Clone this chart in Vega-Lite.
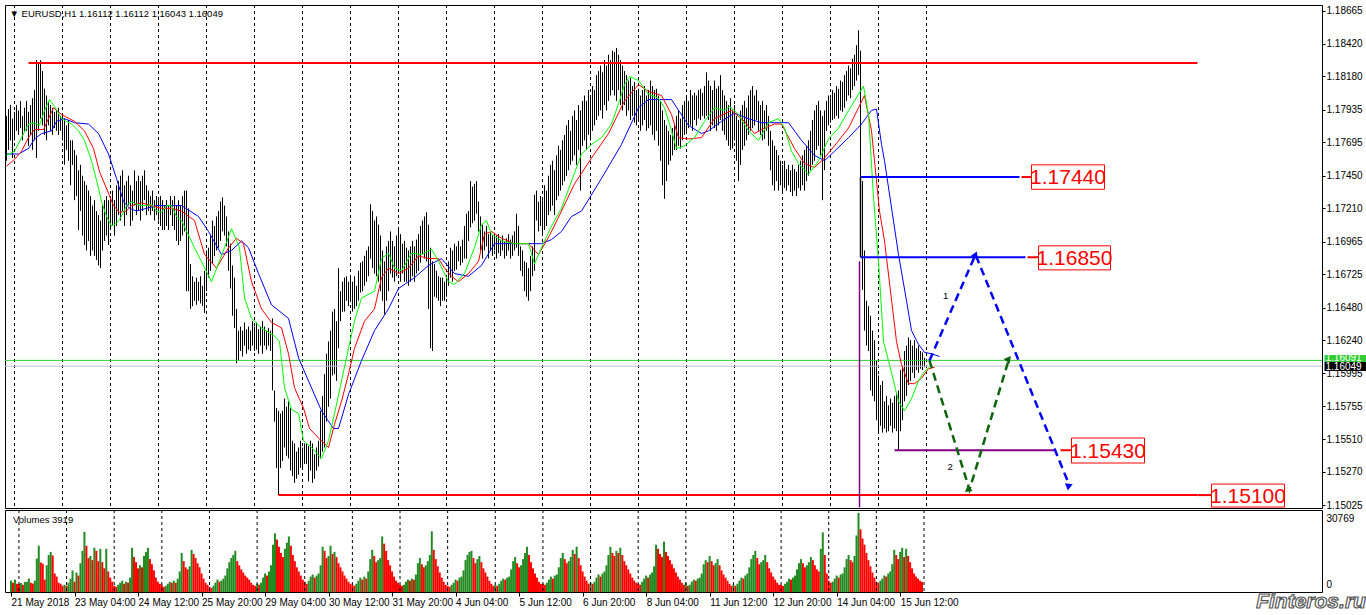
{
"$schema":"https://vega.github.io/schema/vega-lite/v6.json",
"background":"#ffffff",
"padding":{"left":4,"top":4,"right":0,"bottom":0},
"spacing":2,
"bounds":"flush",
"resolve":{"scale":{"x":"independent","y":"independent"}},
"config":{"view":{"stroke":"#000000","strokeWidth":1},"text":{"font":"Liberation Sans"},"axis":{"labelFont":"Liberation Sans","labelColor":"#000000","tickColor":"#000000","labelOverlap":false}},
"datasets":{
"bars":[
{"i":0,"h":1.1789,"l":1.1756,"v":4400},{"i":1,"h":1.1794,"l":1.1764,"v":3600},{"i":2,"h":1.1797,"l":1.1771,"v":4800},{"i":3,"h":1.1787,"l":1.1758,"v":3200},
{"i":4,"h":1.1792,"l":1.1771,"v":3100},{"i":5,"h":1.1797,"l":1.1778,"v":3500},{"i":6,"h":1.1793,"l":1.1775,"v":2800},{"i":7,"h":1.1800,"l":1.1780,"v":3900},
{"i":8,"h":1.1789,"l":1.1771,"v":4000},{"i":9,"h":1.1795,"l":1.1777,"v":5200},{"i":10,"h":1.1800,"l":1.1778,"v":3600},{"i":11,"h":1.1792,"l":1.1767,"v":3300},
{"i":12,"h":1.1797,"l":1.1775,"v":4400},{"i":13,"h":1.1802,"l":1.1764,"v":13000},{"i":14,"h":1.1808,"l":1.1771,"v":18000},{"i":15,"h":1.1830,"l":1.1758,"v":11500},
{"i":16,"h":1.1828,"l":1.1778,"v":11000},{"i":17,"h":1.1830,"l":1.1787,"v":4800},{"i":18,"h":1.1822,"l":1.1782,"v":10400},{"i":19,"h":1.1809,"l":1.1775,"v":14400},
{"i":20,"h":1.1804,"l":1.1771,"v":15600},{"i":21,"h":1.1800,"l":1.1782,"v":14200},{"i":22,"h":1.1797,"l":1.1778,"v":7200},{"i":23,"h":1.1795,"l":1.1775,"v":6000},
{"i":24,"h":1.1792,"l":1.1780,"v":3600},{"i":25,"h":1.1793,"l":1.1778,"v":3200},{"i":26,"h":1.1795,"l":1.1775,"v":2400},{"i":27,"h":1.1789,"l":1.1778,"v":2800},
{"i":28,"h":1.1789,"l":1.1771,"v":2400},{"i":29,"h":1.1787,"l":1.1753,"v":3600},{"i":30,"h":1.1782,"l":1.1764,"v":5200},{"i":31,"h":1.1786,"l":1.1756,"v":8400},
{"i":32,"h":1.1771,"l":1.1738,"v":4000},{"i":33,"h":1.1771,"l":1.1753,"v":7600},{"i":34,"h":1.1764,"l":1.1727,"v":6400},{"i":35,"h":1.1760,"l":1.1730,"v":11200},
{"i":36,"h":1.1749,"l":1.1705,"v":16000},{"i":37,"h":1.1753,"l":1.1719,"v":23400},{"i":38,"h":1.1745,"l":1.1701,"v":18000},{"i":39,"h":1.1741,"l":1.1694,"v":13200},
{"i":40,"h":1.1738,"l":1.1690,"v":14000},{"i":41,"h":1.1734,"l":1.1697,"v":12400},{"i":42,"h":1.1730,"l":1.1686,"v":17200},{"i":43,"h":1.1723,"l":1.1690,"v":16000},
{"i":44,"h":1.1727,"l":1.1686,"v":12000},{"i":45,"h":1.1719,"l":1.1683,"v":16800},{"i":46,"h":1.1716,"l":1.1679,"v":11600},{"i":47,"h":1.1712,"l":1.1677,"v":9200},
{"i":48,"h":1.1723,"l":1.1690,"v":16800},{"i":49,"h":1.1727,"l":1.1697,"v":8000},{"i":50,"h":1.1730,"l":1.1701,"v":5600},{"i":51,"h":1.1727,"l":1.1694,"v":4000},
{"i":52,"h":1.1730,"l":1.1705,"v":2400},{"i":53,"h":1.1734,"l":1.1708,"v":2000},{"i":54,"h":1.1727,"l":1.1701,"v":2800},{"i":55,"h":1.1738,"l":1.1708,"v":3600},
{"i":56,"h":1.1741,"l":1.1716,"v":4400},{"i":57,"h":1.1745,"l":1.1712,"v":3200},{"i":58,"h":1.1749,"l":1.1719,"v":4000},{"i":59,"h":1.1738,"l":1.1708,"v":3600},
{"i":60,"h":1.1741,"l":1.1716,"v":5600},{"i":61,"h":1.1745,"l":1.1723,"v":17200},{"i":62,"h":1.1738,"l":1.1708,"v":13600},{"i":63,"h":1.1734,"l":1.1712,"v":11600},
{"i":64,"h":1.1749,"l":1.1723,"v":9200},{"i":65,"h":1.1741,"l":1.1716,"v":10400},{"i":66,"h":1.1745,"l":1.1719,"v":9600},{"i":67,"h":1.1741,"l":1.1712,"v":14000},
{"i":68,"h":1.1745,"l":1.1719,"v":15600},{"i":69,"h":1.1749,"l":1.1727,"v":17200},{"i":70,"h":1.1738,"l":1.1716,"v":12800},{"i":71,"h":1.1734,"l":1.1719,"v":10800},
{"i":72,"h":1.1730,"l":1.1716,"v":8400},{"i":73,"h":1.1734,"l":1.1719,"v":5600},{"i":74,"h":1.1727,"l":1.1712,"v":4000},{"i":75,"h":1.1730,"l":1.1716,"v":3200},
{"i":76,"h":1.1727,"l":1.1712,"v":2800},{"i":77,"h":1.1730,"l":1.1708,"v":2000},{"i":78,"h":1.1727,"l":1.1705,"v":2400},{"i":79,"h":1.1723,"l":1.1705,"v":3200},
{"i":80,"h":1.1727,"l":1.1708,"v":4000},{"i":81,"h":1.1723,"l":1.1705,"v":3600},{"i":82,"h":1.1730,"l":1.1716,"v":4400},{"i":83,"h":1.1727,"l":1.1708,"v":3600},
{"i":84,"h":1.1730,"l":1.1705,"v":5200},{"i":85,"h":1.1723,"l":1.1697,"v":8000},{"i":86,"h":1.1727,"l":1.1694,"v":15200},{"i":87,"h":1.1723,"l":1.1697,"v":12000},
{"i":88,"h":1.1730,"l":1.1701,"v":9600},{"i":89,"h":1.1734,"l":1.1704,"v":8800},{"i":90,"h":1.1734,"l":1.1660,"v":10000},{"i":91,"h":1.1721,"l":1.1660,"v":16400},
{"i":92,"h":1.1680,"l":1.1647,"v":14800},{"i":93,"h":1.1671,"l":1.1649,"v":13200},{"i":94,"h":1.1667,"l":1.1653,"v":11200},{"i":95,"h":1.1670,"l":1.1650,"v":9600},
{"i":96,"h":1.1667,"l":1.1653,"v":7200},{"i":97,"h":1.1671,"l":1.1651,"v":5200},{"i":98,"h":1.1664,"l":1.1649,"v":3600},{"i":99,"h":1.1675,"l":1.1644,"v":2800},
{"i":100,"h":1.1690,"l":1.1660,"v":2000},{"i":101,"h":1.1692,"l":1.1670,"v":1600},{"i":102,"h":1.1701,"l":1.1675,"v":2400},{"i":103,"h":1.1712,"l":1.1680,"v":3600},
{"i":104,"h":1.1708,"l":1.1686,"v":4800},{"i":105,"h":1.1715,"l":1.1690,"v":4000},{"i":106,"h":1.1719,"l":1.1692,"v":4400},{"i":107,"h":1.1726,"l":1.1697,"v":5200},
{"i":108,"h":1.1729,"l":1.1704,"v":6400},{"i":109,"h":1.1723,"l":1.1701,"v":9200},{"i":110,"h":1.1715,"l":1.1693,"v":11600},{"i":111,"h":1.1704,"l":1.1675,"v":13200},
{"i":112,"h":1.1695,"l":1.1662,"v":14400},{"i":113,"h":1.1679,"l":1.1642,"v":16000},{"i":114,"h":1.1670,"l":1.1633,"v":12000},{"i":115,"h":1.1647,"l":1.1607,"v":10400},
{"i":116,"h":1.1631,"l":1.1609,"v":8800},{"i":117,"h":1.1634,"l":1.1616,"v":7600},{"i":118,"h":1.1631,"l":1.1612,"v":6400},{"i":119,"h":1.1637,"l":1.1620,"v":5600},
{"i":120,"h":1.1632,"l":1.1614,"v":4800},{"i":121,"h":1.1634,"l":1.1617,"v":3600},{"i":122,"h":1.1631,"l":1.1616,"v":2800},{"i":123,"h":1.1638,"l":1.1620,"v":2400},
{"i":124,"h":1.1634,"l":1.1616,"v":3200},{"i":125,"h":1.1637,"l":1.1617,"v":2800},{"i":126,"h":1.1632,"l":1.1614,"v":3600},{"i":127,"h":1.1634,"l":1.1620,"v":5600},
{"i":128,"h":1.1638,"l":1.1614,"v":7200},{"i":129,"h":1.1634,"l":1.1620,"v":6400},{"i":130,"h":1.1631,"l":1.1617,"v":8000},{"i":131,"h":1.1633,"l":1.1620,"v":10400},
{"i":132,"h":1.1631,"l":1.1616,"v":18400},{"i":133,"h":1.1640,"l":1.1587,"v":22800},{"i":134,"h":1.1587,"l":1.1564,"v":20400},{"i":135,"h":1.1574,"l":1.1530,"v":17600},
{"i":136,"h":1.1572,"l":1.1510,"v":15200},{"i":137,"h":1.1570,"l":1.1530,"v":13600},{"i":138,"h":1.1572,"l":1.1535,"v":16800},{"i":139,"h":1.1581,"l":1.1545,"v":19200},
{"i":140,"h":1.1575,"l":1.1539,"v":21600},{"i":141,"h":1.1579,"l":1.1537,"v":18000},{"i":142,"h":1.1574,"l":1.1528,"v":14400},{"i":143,"h":1.1550,"l":1.1524,"v":12000},
{"i":144,"h":1.1548,"l":1.1519,"v":9600},{"i":145,"h":1.1542,"l":1.1522,"v":8000},{"i":146,"h":1.1545,"l":1.1525,"v":6400},{"i":147,"h":1.1550,"l":1.1530,"v":4800},
{"i":148,"h":1.1545,"l":1.1530,"v":4000},{"i":149,"h":1.1548,"l":1.1533,"v":3200},{"i":150,"h":1.1548,"l":1.1533,"v":4400},{"i":151,"h":1.1546,"l":1.1520,"v":6000},
{"i":152,"h":1.1550,"l":1.1528,"v":6800},{"i":153,"h":1.1548,"l":1.1519,"v":5600},{"i":154,"h":1.1540,"l":1.1522,"v":6400},{"i":155,"h":1.1545,"l":1.1528,"v":7200},
{"i":156,"h":1.1550,"l":1.1531,"v":10400},{"i":157,"h":1.1572,"l":1.1537,"v":17600},{"i":158,"h":1.1583,"l":1.1542,"v":16000},{"i":159,"h":1.1599,"l":1.1545,"v":13200},
{"i":160,"h":1.1614,"l":1.1564,"v":14000},{"i":161,"h":1.1623,"l":1.1575,"v":18000},{"i":162,"h":1.1631,"l":1.1581,"v":14800},{"i":163,"h":1.1645,"l":1.1598,"v":15600},
{"i":164,"h":1.1647,"l":1.1599,"v":13600},{"i":165,"h":1.1638,"l":1.1594,"v":11200},{"i":166,"h":1.1677,"l":1.1618,"v":9600},{"i":167,"h":1.1660,"l":1.1638,"v":8000},
{"i":168,"h":1.1667,"l":1.1645,"v":6400},{"i":169,"h":1.1670,"l":1.1645,"v":5200},{"i":170,"h":1.1671,"l":1.1653,"v":4000},{"i":171,"h":1.1667,"l":1.1649,"v":3200},
{"i":172,"h":1.1671,"l":1.1653,"v":2800},{"i":173,"h":1.1667,"l":1.1645,"v":2400},{"i":174,"h":1.1671,"l":1.1647,"v":3200},{"i":175,"h":1.1664,"l":1.1649,"v":4400},
{"i":176,"h":1.1675,"l":1.1653,"v":5600},{"i":177,"h":1.1681,"l":1.1659,"v":4800},{"i":178,"h":1.1682,"l":1.1660,"v":6000},{"i":179,"h":1.1686,"l":1.1664,"v":5200},
{"i":180,"h":1.1690,"l":1.1667,"v":8000},{"i":181,"h":1.1693,"l":1.1671,"v":12800},{"i":182,"h":1.1724,"l":1.1684,"v":16400},{"i":183,"h":1.1719,"l":1.1677,"v":14000},
{"i":184,"h":1.1712,"l":1.1673,"v":11600},{"i":185,"h":1.1715,"l":1.1671,"v":12400},{"i":186,"h":1.1709,"l":1.1667,"v":13200},{"i":187,"h":1.1701,"l":1.1660,"v":21600},
{"i":188,"h":1.1690,"l":1.1653,"v":18800},{"i":189,"h":1.1682,"l":1.1643,"v":16000},{"i":190,"h":1.1693,"l":1.1653,"v":12400},{"i":191,"h":1.1697,"l":1.1660,"v":10400},
{"i":192,"h":1.1704,"l":1.1673,"v":8000},{"i":193,"h":1.1697,"l":1.1670,"v":6000},{"i":194,"h":1.1693,"l":1.1667,"v":4400},{"i":195,"h":1.1701,"l":1.1671,"v":3600},
{"i":196,"h":1.1707,"l":1.1673,"v":2800},{"i":197,"h":1.1702,"l":1.1667,"v":2400},{"i":198,"h":1.1695,"l":1.1673,"v":2800},{"i":199,"h":1.1697,"l":1.1667,"v":4000},
{"i":200,"h":1.1692,"l":1.1667,"v":4800},{"i":201,"h":1.1690,"l":1.1664,"v":4400},{"i":202,"h":1.1693,"l":1.1667,"v":5200},{"i":203,"h":1.1697,"l":1.1671,"v":4800},
{"i":204,"h":1.1693,"l":1.1667,"v":6800},{"i":205,"h":1.1698,"l":1.1673,"v":11200},{"i":206,"h":1.1702,"l":1.1675,"v":13200},{"i":207,"h":1.1708,"l":1.1681,"v":10800},
{"i":208,"h":1.1712,"l":1.1687,"v":9600},{"i":209,"h":1.1715,"l":1.1684,"v":10400},{"i":210,"h":1.1718,"l":1.1682,"v":12000},{"i":211,"h":1.1709,"l":1.1647,"v":14400},
{"i":212,"h":1.1692,"l":1.1618,"v":23600},{"i":213,"h":1.1682,"l":1.1616,"v":16400},{"i":214,"h":1.1680,"l":1.1656,"v":12800},{"i":215,"h":1.1675,"l":1.1655,"v":10000},
{"i":216,"h":1.1671,"l":1.1653,"v":7600},{"i":217,"h":1.1670,"l":1.1649,"v":5600},{"i":218,"h":1.1670,"l":1.1653,"v":4000},{"i":219,"h":1.1667,"l":1.1653,"v":2800},
{"i":220,"h":1.1671,"l":1.1656,"v":2400},{"i":221,"h":1.1682,"l":1.1664,"v":2000},{"i":222,"h":1.1692,"l":1.1670,"v":2800},{"i":223,"h":1.1690,"l":1.1667,"v":3600},
{"i":224,"h":1.1695,"l":1.1675,"v":4800},{"i":225,"h":1.1693,"l":1.1676,"v":4400},{"i":226,"h":1.1697,"l":1.1682,"v":5600},{"i":227,"h":1.1693,"l":1.1679,"v":6000},
{"i":228,"h":1.1698,"l":1.1681,"v":8400},{"i":229,"h":1.1708,"l":1.1684,"v":12400},{"i":230,"h":1.1717,"l":1.1684,"v":14400},{"i":231,"h":1.1719,"l":1.1697,"v":15600},
{"i":232,"h":1.1741,"l":1.1707,"v":16000},{"i":233,"h":1.1737,"l":1.1710,"v":13200},{"i":234,"h":1.1739,"l":1.1712,"v":11200},{"i":235,"h":1.1741,"l":1.1717,"v":12800},
{"i":236,"h":1.1726,"l":1.1704,"v":14000},{"i":237,"h":1.1715,"l":1.1690,"v":11600},{"i":238,"h":1.1709,"l":1.1684,"v":9200},{"i":239,"h":1.1704,"l":1.1690,"v":7600},
{"i":240,"h":1.1708,"l":1.1693,"v":6000},{"i":241,"h":1.1702,"l":1.1684,"v":4400},{"i":242,"h":1.1704,"l":1.1690,"v":3200},{"i":243,"h":1.1701,"l":1.1686,"v":2400},
{"i":244,"h":1.1703,"l":1.1690,"v":2800},{"i":245,"h":1.1701,"l":1.1684,"v":2400},{"i":246,"h":1.1702,"l":1.1688,"v":3200},{"i":247,"h":1.1698,"l":1.1686,"v":4400},
{"i":248,"h":1.1701,"l":1.1690,"v":5200},{"i":249,"h":1.1697,"l":1.1684,"v":4800},{"i":250,"h":1.1699,"l":1.1686,"v":5600},{"i":251,"h":1.1702,"l":1.1690,"v":6000},
{"i":252,"h":1.1698,"l":1.1684,"v":8800},{"i":253,"h":1.1701,"l":1.1686,"v":12000},{"i":254,"h":1.1704,"l":1.1690,"v":13600},{"i":255,"h":1.1717,"l":1.1692,"v":11200},
{"i":256,"h":1.1708,"l":1.1686,"v":9600},{"i":257,"h":1.1693,"l":1.1675,"v":10400},{"i":258,"h":1.1690,"l":1.1671,"v":12800},{"i":259,"h":1.1682,"l":1.1660,"v":15200},
{"i":260,"h":1.1681,"l":1.1656,"v":17600},{"i":261,"h":1.1677,"l":1.1653,"v":14400},{"i":262,"h":1.1686,"l":1.1660,"v":11600},{"i":263,"h":1.1693,"l":1.1671,"v":9200},
{"i":264,"h":1.1731,"l":1.1675,"v":7200},{"i":265,"h":1.1734,"l":1.1712,"v":5600},{"i":266,"h":1.1726,"l":1.1704,"v":4000},{"i":267,"h":1.1730,"l":1.1708,"v":3200},
{"i":268,"h":1.1727,"l":1.1701,"v":3200},{"i":269,"h":1.1738,"l":1.1705,"v":2800},{"i":270,"h":1.1734,"l":1.1708,"v":3600},{"i":271,"h":1.1745,"l":1.1716,"v":4800},
{"i":272,"h":1.1753,"l":1.1719,"v":6000},{"i":273,"h":1.1756,"l":1.1723,"v":5200},{"i":274,"h":1.1749,"l":1.1716,"v":6400},{"i":275,"h":1.1760,"l":1.1727,"v":6800},
{"i":276,"h":1.1767,"l":1.1730,"v":9600},{"i":277,"h":1.1764,"l":1.1734,"v":13200},{"i":278,"h":1.1771,"l":1.1738,"v":15200},{"i":279,"h":1.1775,"l":1.1741,"v":12800},
{"i":280,"h":1.1782,"l":1.1745,"v":11200},{"i":281,"h":1.1786,"l":1.1749,"v":12000},{"i":282,"h":1.1778,"l":1.1753,"v":13600},{"i":283,"h":1.1789,"l":1.1756,"v":16400},
{"i":284,"h":1.1793,"l":1.1760,"v":14800},{"i":285,"h":1.1786,"l":1.1753,"v":17600},{"i":286,"h":1.1797,"l":1.1764,"v":13200},{"i":287,"h":1.1793,"l":1.1734,"v":10400},
{"i":288,"h":1.1800,"l":1.1767,"v":8000},{"i":289,"h":1.1804,"l":1.1771,"v":6000},{"i":290,"h":1.1800,"l":1.1764,"v":4400},{"i":291,"h":1.1808,"l":1.1775,"v":3200},
{"i":292,"h":1.1804,"l":1.1771,"v":3600},{"i":293,"h":1.1811,"l":1.1778,"v":3200},{"i":294,"h":1.1808,"l":1.1782,"v":4000},{"i":295,"h":1.1819,"l":1.1786,"v":5600},
{"i":296,"h":1.1822,"l":1.1789,"v":6800},{"i":297,"h":1.1826,"l":1.1793,"v":6000},{"i":298,"h":1.1821,"l":1.1787,"v":7200},{"i":299,"h":1.1830,"l":1.1797,"v":8000},
{"i":300,"h":1.1826,"l":1.1793,"v":10400},{"i":301,"h":1.1834,"l":1.1800,"v":14400},{"i":302,"h":1.1830,"l":1.1804,"v":17600},{"i":303,"h":1.1837,"l":1.1808,"v":15200},
{"i":304,"h":1.1836,"l":1.1804,"v":14000},{"i":305,"h":1.1839,"l":1.1800,"v":16000},{"i":306,"h":1.1834,"l":1.1808,"v":15200},{"i":307,"h":1.1830,"l":1.1797,"v":17200},
{"i":308,"h":1.1826,"l":1.1793,"v":14400},{"i":309,"h":1.1822,"l":1.1797,"v":12000},{"i":310,"h":1.1819,"l":1.1789,"v":10400},{"i":311,"h":1.1815,"l":1.1793,"v":8800},
{"i":312,"h":1.1817,"l":1.1786,"v":7200},{"i":313,"h":1.1811,"l":1.1789,"v":5600},{"i":314,"h":1.1814,"l":1.1784,"v":4400},{"i":315,"h":1.1808,"l":1.1782,"v":3600},
{"i":316,"h":1.1809,"l":1.1786,"v":3200},{"i":317,"h":1.1804,"l":1.1778,"v":2800},{"i":318,"h":1.1808,"l":1.1782,"v":4000},{"i":319,"h":1.1811,"l":1.1786,"v":5200},
{"i":320,"h":1.1804,"l":1.1778,"v":6400},{"i":321,"h":1.1808,"l":1.1780,"v":5600},{"i":322,"h":1.1815,"l":1.1782,"v":6800},{"i":323,"h":1.1811,"l":1.1775,"v":7600},
{"i":324,"h":1.1808,"l":1.1771,"v":10000},{"i":325,"h":1.1809,"l":1.1778,"v":18400},{"i":326,"h":1.1804,"l":1.1767,"v":16800},{"i":327,"h":1.1800,"l":1.1756,"v":14800},
{"i":328,"h":1.1793,"l":1.1738,"v":13600},{"i":329,"h":1.1786,"l":1.1728,"v":19600},{"i":330,"h":1.1782,"l":1.1741,"v":15600},{"i":331,"h":1.1778,"l":1.1753,"v":14000},
{"i":332,"h":1.1775,"l":1.1756,"v":12400},{"i":333,"h":1.1780,"l":1.1760,"v":10800},{"i":334,"h":1.1782,"l":1.1764,"v":9200},{"i":335,"h":1.1789,"l":1.1764,"v":7600},
{"i":336,"h":1.1793,"l":1.1767,"v":6000},{"i":337,"h":1.1787,"l":1.1765,"v":4800},{"i":338,"h":1.1797,"l":1.1771,"v":3600},{"i":339,"h":1.1800,"l":1.1775,"v":2800},
{"i":340,"h":1.1804,"l":1.1778,"v":3600},{"i":341,"h":1.1800,"l":1.1780,"v":2400},{"i":342,"h":1.1808,"l":1.1782,"v":2800},{"i":343,"h":1.1804,"l":1.1778,"v":4000},
{"i":344,"h":1.1806,"l":1.1786,"v":4800},{"i":345,"h":1.1804,"l":1.1782,"v":4400},{"i":346,"h":1.1808,"l":1.1787,"v":5200},{"i":347,"h":1.1809,"l":1.1786,"v":5600},
{"i":348,"h":1.1806,"l":1.1789,"v":7200},{"i":349,"h":1.1811,"l":1.1787,"v":10800},{"i":350,"h":1.1821,"l":1.1789,"v":12400},{"i":351,"h":1.1815,"l":1.1786,"v":11600},
{"i":352,"h":1.1811,"l":1.1778,"v":14000},{"i":353,"h":1.1808,"l":1.1782,"v":12000},{"i":354,"h":1.1815,"l":1.1780,"v":10400},{"i":355,"h":1.1809,"l":1.1778,"v":11200},
{"i":356,"h":1.1811,"l":1.1782,"v":12800},{"i":357,"h":1.1819,"l":1.1786,"v":10400},{"i":358,"h":1.1808,"l":1.1778,"v":8400},{"i":359,"h":1.1804,"l":1.1775,"v":6800},
{"i":360,"h":1.1800,"l":1.1771,"v":5600},{"i":361,"h":1.1797,"l":1.1767,"v":4400},{"i":362,"h":1.1802,"l":1.1764,"v":3200},{"i":363,"h":1.1793,"l":1.1765,"v":2400},
{"i":364,"h":1.1797,"l":1.1771,"v":2800},{"i":365,"h":1.1789,"l":1.1756,"v":2400},{"i":366,"h":1.1786,"l":1.1741,"v":3200},{"i":367,"h":1.1793,"l":1.1753,"v":4400},
{"i":368,"h":1.1797,"l":1.1764,"v":5600},{"i":369,"h":1.1800,"l":1.1767,"v":5200},{"i":370,"h":1.1795,"l":1.1771,"v":6400},{"i":371,"h":1.1804,"l":1.1775,"v":7200},
{"i":372,"h":1.1808,"l":1.1778,"v":9600},{"i":373,"h":1.1811,"l":1.1780,"v":12800},{"i":374,"h":1.1804,"l":1.1782,"v":14400},{"i":375,"h":1.1808,"l":1.1786,"v":16000},
{"i":376,"h":1.1800,"l":1.1778,"v":13200},{"i":377,"h":1.1797,"l":1.1775,"v":10800},{"i":378,"h":1.1800,"l":1.1771,"v":11600},{"i":379,"h":1.1793,"l":1.1772,"v":12400},
{"i":380,"h":1.1797,"l":1.1778,"v":14400},{"i":381,"h":1.1789,"l":1.1767,"v":11600},{"i":382,"h":1.1778,"l":1.1749,"v":9200},{"i":383,"h":1.1771,"l":1.1738,"v":7600},
{"i":384,"h":1.1767,"l":1.1734,"v":6000},{"i":385,"h":1.1764,"l":1.1741,"v":4800},{"i":386,"h":1.1760,"l":1.1734,"v":3600},{"i":387,"h":1.1756,"l":1.1738,"v":2800},
{"i":388,"h":1.1753,"l":1.1733,"v":2800},{"i":389,"h":1.1756,"l":1.1736,"v":2400},{"i":390,"h":1.1750,"l":1.1734,"v":3200},{"i":391,"h":1.1753,"l":1.1738,"v":4000},
{"i":392,"h":1.1749,"l":1.1733,"v":5200},{"i":393,"h":1.1753,"l":1.1730,"v":4800},{"i":394,"h":1.1750,"l":1.1734,"v":5600},{"i":395,"h":1.1748,"l":1.1730,"v":6400},
{"i":396,"h":1.1753,"l":1.1736,"v":8800},{"i":397,"h":1.1756,"l":1.1734,"v":11200},{"i":398,"h":1.1760,"l":1.1738,"v":12800},{"i":399,"h":1.1764,"l":1.1734,"v":11200},
{"i":400,"h":1.1767,"l":1.1741,"v":9600},{"i":401,"h":1.1771,"l":1.1745,"v":10400},{"i":402,"h":1.1778,"l":1.1749,"v":11600},{"i":403,"h":1.1786,"l":1.1753,"v":13600},
{"i":404,"h":1.1793,"l":1.1756,"v":12400},{"i":405,"h":1.1797,"l":1.1764,"v":10400},{"i":406,"h":1.1800,"l":1.1767,"v":8800},{"i":407,"h":1.1793,"l":1.1760,"v":8000},
{"i":408,"h":1.1789,"l":1.1727,"v":16800},{"i":409,"h":1.1793,"l":1.1749,"v":23200},{"i":410,"h":1.1800,"l":1.1778,"v":14400},{"i":411,"h":1.1804,"l":1.1782,"v":7200},
{"i":412,"h":1.1802,"l":1.1784,"v":4400},{"i":413,"h":1.1808,"l":1.1786,"v":3600},{"i":414,"h":1.1806,"l":1.1787,"v":4000},{"i":415,"h":1.1811,"l":1.1789,"v":5200},
{"i":416,"h":1.1809,"l":1.1787,"v":6400},{"i":417,"h":1.1815,"l":1.1793,"v":5600},{"i":418,"h":1.1814,"l":1.1792,"v":6800},{"i":419,"h":1.1819,"l":1.1795,"v":7200},
{"i":420,"h":1.1822,"l":1.1800,"v":9600},{"i":421,"h":1.1826,"l":1.1804,"v":12800},{"i":422,"h":1.1824,"l":1.1802,"v":14400},{"i":423,"h":1.1831,"l":1.1808,"v":12400},
{"i":424,"h":1.1834,"l":1.1811,"v":11600},{"i":425,"h":1.1841,"l":1.1815,"v":14000},{"i":426,"h":1.1852,"l":1.1819,"v":22000},{"i":427,"h":1.1837,"l":1.1738,"v":30769},
{"i":428,"h":1.1741,"l":1.1661,"v":24400},{"i":429,"h":1.1690,"l":1.1631,"v":20800},{"i":430,"h":1.1653,"l":1.1620,"v":18400},{"i":431,"h":1.1649,"l":1.1616,"v":15200},
{"i":432,"h":1.1642,"l":1.1587,"v":12400},{"i":433,"h":1.1631,"l":1.1583,"v":10000},{"i":434,"h":1.1624,"l":1.1579,"v":7600},{"i":435,"h":1.1609,"l":1.1565,"v":5600},
{"i":436,"h":1.1598,"l":1.1557,"v":4000},{"i":437,"h":1.1591,"l":1.1561,"v":3600},{"i":438,"h":1.1594,"l":1.1556,"v":4400},{"i":439,"h":1.1579,"l":1.1559,"v":5200},
{"i":440,"h":1.1583,"l":1.1556,"v":6400},{"i":441,"h":1.1576,"l":1.1557,"v":6000},{"i":442,"h":1.1581,"l":1.1561,"v":7200},{"i":443,"h":1.1578,"l":1.1556,"v":8000},
{"i":444,"h":1.1583,"l":1.1559,"v":10800},{"i":445,"h":1.1585,"l":1.1557,"v":16400},{"i":446,"h":1.1587,"l":1.1543,"v":14400},{"i":447,"h":1.1602,"l":1.1557,"v":12800},
{"i":448,"h":1.1605,"l":1.1565,"v":15600},{"i":449,"h":1.1616,"l":1.1579,"v":17200},{"i":450,"h":1.1620,"l":1.1583,"v":13600},{"i":451,"h":1.1626,"l":1.1591,"v":16800},
{"i":452,"h":1.1624,"l":1.1594,"v":14000},{"i":453,"h":1.1620,"l":1.1600,"v":11600},{"i":454,"h":1.1624,"l":1.1596,"v":9200},{"i":455,"h":1.1618,"l":1.1602,"v":7200},
{"i":456,"h":1.1620,"l":1.1600,"v":6000},{"i":457,"h":1.1616,"l":1.1603,"v":5200},{"i":458,"h":1.1615,"l":1.1602,"v":4400},{"i":459,"h":1.1611,"l":1.1604,"v":3919}
],
"ma":[
{"k":"jaw","i":0,"p":1.1761},{"k":"jaw","i":6,"p":1.1761},{"k":"jaw","i":11,"p":1.1765},{"k":"jaw","i":14,"p":1.1772},{"k":"jaw","i":17.5,"p":1.1776},{"k":"jaw","i":22.5,"p":1.1778},{"k":"jaw","i":25,"p":1.1785},{"k":"jaw","i":29,"p":1.1787},{"k":"jaw","i":34,"p":1.1784},{"k":"jaw","i":41,"p":1.1783},{"k":"jaw","i":46,"p":1.1776},{"k":"jaw","i":51,"p":1.1761},{"k":"jaw","i":55,"p":1.1743},{"k":"jaw","i":58.5,"p":1.1726},{"k":"jaw","i":61.5,"p":1.1721},{"k":"jaw","i":65,"p":1.1719},{"k":"jaw","i":70,"p":1.1721},{"k":"jaw","i":75,"p":1.1723},{"k":"jaw","i":80,"p":1.1723},{"k":"jaw","i":87.5,"p":1.1723},{"k":"jaw","i":96,"p":1.1715},{"k":"jaw","i":101,"p":1.1704},{"k":"jaw","i":107.5,"p":1.1687},{"k":"jaw","i":112.5,"p":1.1690},{"k":"jaw","i":117.5,"p":1.1697},{"k":"jaw","i":121,"p":1.1692},{"k":"jaw","i":126,"p":1.1673},{"k":"jaw","i":132.5,"p":1.1650},{"k":"jaw","i":141,"p":1.1640},{"k":"jaw","i":146,"p":1.1611},{"k":"jaw","i":151,"p":1.1594},{"k":"jaw","i":157.5,"p":1.1572},{"k":"jaw","i":163.5,"p":1.1559},{"k":"jaw","i":166,"p":1.1559},{"k":"jaw","i":171,"p":1.1584},{"k":"jaw","i":177.5,"p":1.1609},{"k":"jaw","i":184,"p":1.1631},{"k":"jaw","i":191,"p":1.1647},{"k":"jaw","i":196,"p":1.1662},{"k":"jaw","i":204,"p":1.1670},{"k":"jaw","i":211,"p":1.1679},{"k":"jaw","i":217.5,"p":1.1684},{"k":"jaw","i":224,"p":1.1673},{"k":"jaw","i":231,"p":1.1671},{"k":"jaw","i":237.5,"p":1.1679},{"k":"jaw","i":244,"p":1.1695},{"k":"jaw","i":251,"p":1.1695},{"k":"jaw","i":261,"p":1.1695},{"k":"jaw","i":267.5,"p":1.1695},{"k":"jaw","i":272.5,"p":1.1698},{"k":"jaw","i":277.5,"p":1.1704},{"k":"jaw","i":282.5,"p":1.1715},{"k":"jaw","i":287.5,"p":1.1719},{"k":"jaw","i":297.5,"p":1.1743},{"k":"jaw","i":307.5,"p":1.1768},{"k":"jaw","i":316,"p":1.1795},{"k":"jaw","i":321,"p":1.1801},{"k":"jaw","i":332.5,"p":1.1801},{"k":"jaw","i":341,"p":1.1782},{"k":"jaw","i":347.5,"p":1.1776},{"k":"jaw","i":351,"p":1.1778},{"k":"jaw","i":357.5,"p":1.1785},{"k":"jaw","i":364,"p":1.1791},{"k":"jaw","i":371,"p":1.1787},{"k":"jaw","i":377.5,"p":1.1784},{"k":"jaw","i":391,"p":1.1784},{"k":"jaw","i":397.5,"p":1.1771},{"k":"jaw","i":404,"p":1.1760},{"k":"jaw","i":409,"p":1.1756},{"k":"jaw","i":414,"p":1.1763},{"k":"jaw","i":421,"p":1.1773},{"k":"jaw","i":427.5,"p":1.1783},{"k":"jaw","i":432.5,"p":1.1793},{"k":"jaw","i":435,"p":1.1794},{"k":"jaw","i":437.5,"p":1.1768},{"k":"jaw","i":439,"p":1.1756},{"k":"jaw","i":446,"p":1.1687},{"k":"jaw","i":450,"p":1.1653},{"k":"jaw","i":452.5,"p":1.1631},{"k":"jaw","i":456,"p":1.1621},{"k":"jaw","i":459,"p":1.1615},{"k":"jaw","i":462.5,"p":1.1614},{"k":"jaw","i":466.5,"p":1.1612},
{"k":"teeth","i":0,"p":1.1752},{"k":"teeth","i":4,"p":1.1757},{"k":"teeth","i":7.5,"p":1.1763},{"k":"teeth","i":11,"p":1.1773},{"k":"teeth","i":14,"p":1.1779},{"k":"teeth","i":18.5,"p":1.1779},{"k":"teeth","i":21,"p":1.1787},{"k":"teeth","i":23.5,"p":1.1795},{"k":"teeth","i":27.5,"p":1.1790},{"k":"teeth","i":34,"p":1.1785},{"k":"teeth","i":39,"p":1.1778},{"k":"teeth","i":43.5,"p":1.1765},{"k":"teeth","i":46.5,"p":1.1748},{"k":"teeth","i":51,"p":1.1732},{"k":"teeth","i":53.5,"p":1.1723},{"k":"teeth","i":56.5,"p":1.1718},{"k":"teeth","i":60,"p":1.1719},{"k":"teeth","i":62.5,"p":1.1723},{"k":"teeth","i":67.5,"p":1.1725},{"k":"teeth","i":72.5,"p":1.1723},{"k":"teeth","i":77.5,"p":1.1721},{"k":"teeth","i":82.5,"p":1.1721},{"k":"teeth","i":87.5,"p":1.1719},{"k":"teeth","i":94,"p":1.1712},{"k":"teeth","i":99,"p":1.1687},{"k":"teeth","i":105,"p":1.1677},{"k":"teeth","i":111,"p":1.1692},{"k":"teeth","i":115,"p":1.1699},{"k":"teeth","i":118.5,"p":1.1695},{"k":"teeth","i":122.5,"p":1.1667},{"k":"teeth","i":127.5,"p":1.1647},{"k":"teeth","i":132.5,"p":1.1637},{"k":"teeth","i":137.5,"p":1.1633},{"k":"teeth","i":141,"p":1.1614},{"k":"teeth","i":144,"p":1.1589},{"k":"teeth","i":148.5,"p":1.1574},{"k":"teeth","i":151.5,"p":1.1559},{"k":"teeth","i":156,"p":1.1552},{"k":"teeth","i":161,"p":1.1545},{"k":"teeth","i":164,"p":1.1562},{"k":"teeth","i":167.5,"p":1.1579},{"k":"teeth","i":171,"p":1.1599},{"k":"teeth","i":174,"p":1.1618},{"k":"teeth","i":179,"p":1.1638},{"k":"teeth","i":184,"p":1.1647},{"k":"teeth","i":187.5,"p":1.1670},{"k":"teeth","i":191,"p":1.1677},{"k":"teeth","i":196,"p":1.1673},{"k":"teeth","i":201,"p":1.1677},{"k":"teeth","i":206,"p":1.1686},{"k":"teeth","i":211,"p":1.1684},{"k":"teeth","i":216,"p":1.1684},{"k":"teeth","i":219,"p":1.1677},{"k":"teeth","i":222.5,"p":1.1671},{"k":"teeth","i":226,"p":1.1667},{"k":"teeth","i":231,"p":1.1673},{"k":"teeth","i":236,"p":1.1682},{"k":"teeth","i":239,"p":1.1702},{"k":"teeth","i":242.5,"p":1.1704},{"k":"teeth","i":247.5,"p":1.1699},{"k":"teeth","i":254,"p":1.1695},{"k":"teeth","i":261,"p":1.1695},{"k":"teeth","i":266,"p":1.1687},{"k":"teeth","i":271.5,"p":1.1701},{"k":"teeth","i":277.5,"p":1.1719},{"k":"teeth","i":284,"p":1.1739},{"k":"teeth","i":292.5,"p":1.1758},{"k":"teeth","i":301,"p":1.1776},{"k":"teeth","i":309,"p":1.1800},{"k":"teeth","i":316,"p":1.1812},{"k":"teeth","i":321,"p":1.1807},{"k":"teeth","i":327.5,"p":1.1804},{"k":"teeth","i":332.5,"p":1.1790},{"k":"teeth","i":336,"p":1.1773},{"k":"teeth","i":341,"p":1.1772},{"k":"teeth","i":347.5,"p":1.1773},{"k":"teeth","i":354,"p":1.1787},{"k":"teeth","i":362.5,"p":1.1793},{"k":"teeth","i":369,"p":1.1785},{"k":"teeth","i":374,"p":1.1776},{"k":"teeth","i":379,"p":1.1780},{"k":"teeth","i":384,"p":1.1783},{"k":"teeth","i":387.5,"p":1.1783},{"k":"teeth","i":394,"p":1.1765},{"k":"teeth","i":399,"p":1.1754},{"k":"teeth","i":404,"p":1.1751},{"k":"teeth","i":409,"p":1.1758},{"k":"teeth","i":414,"p":1.1767},{"k":"teeth","i":421,"p":1.1780},{"k":"teeth","i":426,"p":1.1795},{"k":"teeth","i":429,"p":1.1804},{"k":"teeth","i":432.5,"p":1.1778},{"k":"teeth","i":434,"p":1.1756},{"k":"teeth","i":436.5,"p":1.1719},{"k":"teeth","i":439,"p":1.1697},{"k":"teeth","i":445,"p":1.1623},{"k":"teeth","i":447.5,"p":1.1606},{"k":"teeth","i":451,"p":1.1592},{"k":"teeth","i":454,"p":1.1592},{"k":"teeth","i":457.5,"p":1.1596},{"k":"teeth","i":461,"p":1.1603},{"k":"teeth","i":464,"p":1.1604},
{"k":"lips","i":0,"p":1.1760},{"k":"lips","i":4,"p":1.1763},{"k":"lips","i":7.5,"p":1.1773},{"k":"lips","i":11,"p":1.1783},{"k":"lips","i":14,"p":1.1784},{"k":"lips","i":16.5,"p":1.1782},{"k":"lips","i":19,"p":1.1793},{"k":"lips","i":21.5,"p":1.1801},{"k":"lips","i":24,"p":1.1796},{"k":"lips","i":27.5,"p":1.1787},{"k":"lips","i":32.5,"p":1.1783},{"k":"lips","i":36,"p":1.1778},{"k":"lips","i":39,"p":1.1771},{"k":"lips","i":42.5,"p":1.1756},{"k":"lips","i":46,"p":1.1736},{"k":"lips","i":47.5,"p":1.1726},{"k":"lips","i":50,"p":1.1715},{"k":"lips","i":52.5,"p":1.1708},{"k":"lips","i":55,"p":1.1710},{"k":"lips","i":57.5,"p":1.1715},{"k":"lips","i":60,"p":1.1723},{"k":"lips","i":62.5,"p":1.1726},{"k":"lips","i":65,"p":1.1724},{"k":"lips","i":67.5,"p":1.1723},{"k":"lips","i":70,"p":1.1723},{"k":"lips","i":72.5,"p":1.1724},{"k":"lips","i":75,"p":1.1719},{"k":"lips","i":77.5,"p":1.1718},{"k":"lips","i":80,"p":1.1723},{"k":"lips","i":82.5,"p":1.1723},{"k":"lips","i":85,"p":1.1715},{"k":"lips","i":87.5,"p":1.1712},{"k":"lips","i":94,"p":1.1692},{"k":"lips","i":102.5,"p":1.1667},{"k":"lips","i":109,"p":1.1692},{"k":"lips","i":112.5,"p":1.1706},{"k":"lips","i":116.5,"p":1.1692},{"k":"lips","i":119,"p":1.1655},{"k":"lips","i":122.5,"p":1.1640},{"k":"lips","i":127.5,"p":1.1633},{"k":"lips","i":134,"p":1.1627},{"k":"lips","i":136.5,"p":1.1623},{"k":"lips","i":139,"p":1.1589},{"k":"lips","i":142.5,"p":1.1573},{"k":"lips","i":146,"p":1.1570},{"k":"lips","i":148.5,"p":1.1550},{"k":"lips","i":152.5,"p":1.1545},{"k":"lips","i":157.5,"p":1.1537},{"k":"lips","i":161,"p":1.1550},{"k":"lips","i":164,"p":1.1570},{"k":"lips","i":167.5,"p":1.1594},{"k":"lips","i":171,"p":1.1618},{"k":"lips","i":174,"p":1.1638},{"k":"lips","i":177.5,"p":1.1655},{"k":"lips","i":184,"p":1.1660},{"k":"lips","i":187.5,"p":1.1684},{"k":"lips","i":191,"p":1.1688},{"k":"lips","i":194,"p":1.1677},{"k":"lips","i":197.5,"p":1.1675},{"k":"lips","i":202.5,"p":1.1688},{"k":"lips","i":207.5,"p":1.1687},{"k":"lips","i":212.5,"p":1.1691},{"k":"lips","i":216,"p":1.1682},{"k":"lips","i":221,"p":1.1667},{"k":"lips","i":224,"p":1.1665},{"k":"lips","i":229,"p":1.1673},{"k":"lips","i":234,"p":1.1692},{"k":"lips","i":237.5,"p":1.1709},{"k":"lips","i":240,"p":1.1712},{"k":"lips","i":242.5,"p":1.1702},{"k":"lips","i":247.5,"p":1.1697},{"k":"lips","i":254,"p":1.1695},{"k":"lips","i":261,"p":1.1695},{"k":"lips","i":264,"p":1.1680},{"k":"lips","i":267.5,"p":1.1692},{"k":"lips","i":272.5,"p":1.1708},{"k":"lips","i":277.5,"p":1.1721},{"k":"lips","i":282.5,"p":1.1741},{"k":"lips","i":287.5,"p":1.1761},{"k":"lips","i":292.5,"p":1.1768},{"k":"lips","i":297.5,"p":1.1773},{"k":"lips","i":302.5,"p":1.1783},{"k":"lips","i":306,"p":1.1798},{"k":"lips","i":309,"p":1.1812},{"k":"lips","i":311.5,"p":1.1818},{"k":"lips","i":316,"p":1.1815},{"k":"lips","i":321,"p":1.1805},{"k":"lips","i":326,"p":1.1802},{"k":"lips","i":329,"p":1.1795},{"k":"lips","i":332.5,"p":1.1778},{"k":"lips","i":335,"p":1.1765},{"k":"lips","i":339,"p":1.1767},{"k":"lips","i":344,"p":1.1773},{"k":"lips","i":349,"p":1.1785},{"k":"lips","i":354,"p":1.1795},{"k":"lips","i":359,"p":1.1793},{"k":"lips","i":361.5,"p":1.1796},{"k":"lips","i":366,"p":1.1790},{"k":"lips","i":371,"p":1.1778},{"k":"lips","i":376,"p":1.1771},{"k":"lips","i":381,"p":1.1784},{"k":"lips","i":386,"p":1.1787},{"k":"lips","i":389,"p":1.1780},{"k":"lips","i":392.5,"p":1.1763},{"k":"lips","i":396,"p":1.1754},{"k":"lips","i":401,"p":1.1746},{"k":"lips","i":406,"p":1.1756},{"k":"lips","i":411,"p":1.1772},{"k":"lips","i":416,"p":1.1780},{"k":"lips","i":421,"p":1.1793},{"k":"lips","i":424,"p":1.1800},{"k":"lips","i":428.5,"p":1.1811},{"k":"lips","i":431,"p":1.1790},{"k":"lips","i":433.5,"p":1.1729},{"k":"lips","i":436,"p":1.1682},{"k":"lips","i":438.5,"p":1.1623},{"k":"lips","i":441.5,"p":1.1606},{"k":"lips","i":446,"p":1.1579},{"k":"lips","i":449,"p":1.1572},{"k":"lips","i":452.5,"p":1.1581},{"k":"lips","i":456,"p":1.1594},{"k":"lips","i":459,"p":1.1601},{"k":"lips","i":461.5,"p":1.1604}
],
"seps":[{"i":4},{"i":28},{"i":52},{"i":76},{"i":100},{"i":124},{"i":148},{"i":172},{"i":196},{"i":220},{"i":244},{"i":268},{"i":292},{"i":316},{"i":340},{"i":364},{"i":388},{"i":412},{"i":436},{"i":460}],
"levels":[
{"k":"res","a":11,"b":595.5,"p":1.1828},
{"k":"t1","a":427,"b":506.5,"p":1.1744},
{"k":"t2","a":427,"b":509.5,"p":1.1685},
{"k":"stop","a":444,"b":524,"p":1.1543},
{"k":"sup","a":136,"b":595.5,"p":1.1510},
{"k":"link","a":507.5,"b":512.5,"p":1.1744},
{"k":"link","a":510.5,"b":516,"p":1.1685},
{"k":"link","a":527,"b":532.5,"p":1.1543},
{"k":"link","a":595.5,"b":602.5,"p":1.1510}
],
"vlines":[
{"k":"blk","i":427,"p1":1.1685,"p2":1.1744},
{"k":"pur","i":426.5,"p1":1.1501,"p2":1.1682}
],
"proj":[
{"s":"1","i":461.5,"p":1.1609},{"s":"1","i":484.5,"p":1.1687},{"s":"1","i":531.5,"p":1.1517},
{"s":"2","i":461.5,"p":1.1609},{"s":"2","i":481.5,"p":1.1514},{"s":"2","i":501,"p":1.1609}
],
"arrows":[
{"s":"1","d":"a","i":484.5,"p":1.1687},{"s":"1","d":"b","i":531.5,"p":1.1517},
{"s":"2","d":"c","i":481.5,"p":1.1514},{"s":"2","d":"d","i":501,"p":1.1609}
],
"boxes":[
{"t":"1.17440","a":512.5,"b":549,"m":530.75,"p1":1.1735,"p2":1.1753,"c":1.1744},
{"t":"1.16850","a":516,"b":552,"m":534,"p1":1.16757,"p2":1.16934,"c":1.16845},
{"t":"1.15430","a":532.5,"b":569,"m":550.75,"p1":1.15336,"p2":1.1552,"c":1.15428},
{"t":"1.15100","a":602.5,"b":639,"m":620.75,"p1":1.15012,"p2":1.15181,"c":1.15096}
],
"notes":[
{"t":"1","i":468.3,"p":1.16564},
{"t":"2","i":470.5,"p":1.15306},
{"t":"▼ EURUSD,H1  1.16112 1.16112 1.16043 1.16049","i":1.5,"p":1.18643}
],
"tags":[
{"k":"bid","t":"1.16091","q":1.16091,"a":659,"b":680,"p1":1.16079,"p2":1.1613,"c":1.16106},
{"k":"last","t":"1.16049","q":1.16049,"a":659,"b":680,"p1":1.16013,"p2":1.16079,"c":1.16046}
],
"vnotes":[
{"k":"title","t":"Volumes 3919","i":1,"v":28000},
{"k":"mark","t":"Finteros.ru","i":655,"v":-4000}
]
},
"vconcat":[
{"width":1317,"height":503,
"resolve":{"scale":{"color":"independent","size":"independent","angle":"independent"}},
"layer":[
{"data":{"name":"seps"},"mark":{"type":"rule","color":"#000000","strokeDash":[3,3],"strokeWidth":1},
"encoding":{"x":{"field":"i","type":"quantitative","scale":{"domain":[-0.75,657.75],"nice":false,"zero":false},"axis":null}}},
{"data":{"name":"bars"},"mark":{"type":"rule","color":"#000000","strokeWidth":1},
"encoding":{
"x":{"field":"i","type":"quantitative","scale":{"domain":[-0.75,657.75],"nice":false,"zero":false},"axis":null},
"y":{"field":"l","type":"quantitative","scale":{"domain":[1.15005,1.18706],"nice":false,"zero":false},
"axis":{"orient":"right","values":[1.18665,1.1842,1.1818,1.17935,1.17695,1.1745,1.1721,1.16965,1.16725,1.1648,1.1624,1.15995,1.15755,1.1551,1.1527,1.15025],"tickCount":40,"format":".5f","title":null,"tickSize":3,"labelPadding":1,"labelFontSize":10,"labelFlush":false,"labelOverlap":false,"grid":false,"domain":false}},
"y2":{"field":"h"}}},
{"data":{"name":"tags"},"transform":[{"filter":"datum.k=='bid'"}],"mark":{"type":"rule","color":"#32CD32","strokeWidth":1},
"encoding":{"y":{"field":"q","type":"quantitative","scale":{"domain":[1.15005,1.18706],"nice":false,"zero":false}}}},
{"data":{"name":"tags"},"transform":[{"filter":"datum.k=='last'"}],"mark":{"type":"rule","color":"#C0C0C0","strokeWidth":1},
"encoding":{"y":{"field":"q","type":"quantitative","scale":{"domain":[1.15005,1.18706],"nice":false,"zero":false}}}},
{"data":{"name":"ma"},"mark":{"type":"line","strokeWidth":1},
"encoding":{
"x":{"field":"i","type":"quantitative","scale":{"domain":[-0.75,657.75],"nice":false,"zero":false},"axis":null},
"y":{"field":"p","type":"quantitative","scale":{"domain":[1.15005,1.18706],"nice":false,"zero":false}},
"color":{"field":"k","type":"nominal","scale":{"domain":["jaw","teeth","lips"],"range":["#0000FF","#FF0000","#00FF00"]},"legend":null}}},
{"data":{"name":"levels"},"mark":{"type":"rule"},
"encoding":{
"x":{"field":"a","type":"quantitative","scale":{"domain":[-0.75,657.75],"nice":false,"zero":false},"axis":null},
"x2":{"field":"b"},
"y":{"field":"p","type":"quantitative","scale":{"domain":[1.15005,1.18706],"nice":false,"zero":false}},
"color":{"field":"k","type":"nominal","scale":{"domain":["res","sup","t1","t2","stop","link"],"range":["#FF0000","#FF0000","#0000FF","#0000FF","#800080","#FF0000"]},"legend":null},
"size":{"field":"k","type":"nominal","scale":{"domain":["res","sup","t1","t2","stop","link"],"range":[2,2,3,3,3,1]},"legend":null}}},
{"data":{"name":"vlines"},"mark":{"type":"rule","strokeWidth":1.5},
"encoding":{
"x":{"field":"i","type":"quantitative","scale":{"domain":[-0.75,657.75],"nice":false,"zero":false},"axis":null},
"y":{"field":"p1","type":"quantitative","scale":{"domain":[1.15005,1.18706],"nice":false,"zero":false}},
"y2":{"field":"p2"},
"color":{"field":"k","type":"nominal","scale":{"domain":["blk","pur"],"range":["#000000","#800080"]},"legend":null}}},
{"data":{"name":"proj"},"mark":{"type":"line","strokeWidth":2.5,"strokeDash":[8,5]},
"encoding":{
"x":{"field":"i","type":"quantitative","scale":{"domain":[-0.75,657.75],"nice":false,"zero":false},"axis":null},
"y":{"field":"p","type":"quantitative","scale":{"domain":[1.15005,1.18706],"nice":false,"zero":false}},
"color":{"field":"s","type":"nominal","scale":{"domain":["1","2"],"range":["#0000FF","#0A640A"]},"legend":null}}},
{"data":{"name":"arrows"},"mark":{"type":"point","shape":"triangle-up","filled":true,"size":60,"opacity":1},
"encoding":{
"x":{"field":"i","type":"quantitative","scale":{"domain":[-0.75,657.75],"nice":false,"zero":false},"axis":null},
"y":{"field":"p","type":"quantitative","scale":{"domain":[1.15005,1.18706],"nice":false,"zero":false}},
"color":{"field":"s","type":"nominal","scale":{"domain":["1","2"],"range":["#0000FF","#0A640A"]},"legend":null},
"angle":{"field":"d","type":"nominal","scale":{"domain":["a","b","c","d"],"range":[24,158,162,16]},"legend":null}}},
{"data":{"name":"boxes"},"mark":{"type":"rect","fill":"#FFFFFF","stroke":"#FF0000","strokeWidth":1},
"encoding":{
"x":{"field":"a","type":"quantitative","scale":{"domain":[-0.75,657.75],"nice":false,"zero":false},"axis":null},
"x2":{"field":"b"},
"y":{"field":"p1","type":"quantitative","scale":{"domain":[1.15005,1.18706],"nice":false,"zero":false}},
"y2":{"field":"p2"}}},
{"data":{"name":"boxes"},"mark":{"type":"text","color":"#FF0000","fontSize":21,"align":"center","baseline":"middle","dy":1},
"encoding":{
"x":{"field":"m","type":"quantitative","scale":{"domain":[-0.75,657.75],"nice":false,"zero":false},"axis":null},
"y":{"field":"c","type":"quantitative","scale":{"domain":[1.15005,1.18706],"nice":false,"zero":false}},
"text":{"field":"t"}}},
{"data":{"name":"notes"},"mark":{"type":"text","color":"#000000","fontSize":9.5,"align":"left","baseline":"middle"},
"encoding":{
"x":{"field":"i","type":"quantitative","scale":{"domain":[-0.75,657.75],"nice":false,"zero":false},"axis":null},
"y":{"field":"p","type":"quantitative","scale":{"domain":[1.15005,1.18706],"nice":false,"zero":false}},
"text":{"field":"t"}}},
{"data":{"name":"tags"},"transform":[{"filter":"datum.k=='bid'"}],"mark":{"type":"rect","fill":"#32CD32"},
"encoding":{
"x":{"field":"a","type":"quantitative","scale":{"domain":[-0.75,657.75],"nice":false,"zero":false},"axis":null},
"x2":{"field":"b"},
"y":{"field":"p1","type":"quantitative","scale":{"domain":[1.15005,1.18706],"nice":false,"zero":false}},
"y2":{"field":"p2"}}},
{"data":{"name":"tags"},"transform":[{"filter":"datum.k=='bid'"}],"mark":{"type":"text","color":"#FFFFFF","fontSize":10,"align":"left","baseline":"middle","dx":1},
"encoding":{
"x":{"field":"a","type":"quantitative","scale":{"domain":[-0.75,657.75],"nice":false,"zero":false},"axis":null},
"y":{"field":"c","type":"quantitative","scale":{"domain":[1.15005,1.18706],"nice":false,"zero":false}},
"text":{"field":"t"}}},
{"data":{"name":"tags"},"transform":[{"filter":"datum.k=='last'"}],"mark":{"type":"rect","fill":"#000000"},
"encoding":{
"x":{"field":"a","type":"quantitative","scale":{"domain":[-0.75,657.75],"nice":false,"zero":false},"axis":null},
"x2":{"field":"b"},
"y":{"field":"p1","type":"quantitative","scale":{"domain":[1.15005,1.18706],"nice":false,"zero":false}},
"y2":{"field":"p2"}}},
{"data":{"name":"tags"},"transform":[{"filter":"datum.k=='last'"}],"mark":{"type":"text","color":"#FFFFFF","fontSize":10,"align":"left","baseline":"middle","dx":1},
"encoding":{
"x":{"field":"a","type":"quantitative","scale":{"domain":[-0.75,657.75],"nice":false,"zero":false},"axis":null},
"y":{"field":"c","type":"quantitative","scale":{"domain":[1.15005,1.18706],"nice":false,"zero":false}},
"text":{"field":"t"}}}
]},
{"width":1317,"height":82,
"layer":[
{"data":{"name":"bars"},"transform":[{"window":[{"op":"lag","field":"v","as":"pv"}],"sort":[{"field":"i","order":"ascending"}]}],
"mark":{"type":"bar","size":2},
"encoding":{
"x":{"field":"i","type":"quantitative","scale":{"domain":[-0.5,658],"nice":false,"zero":false},
"axis":{"orient":"bottom","values":[0,32,64,96,128,160,192,224,256,288,320,352,384,416,448],"tickCount":40,"labelExpr":"['21 May 2018','23 May 04:00','24 May 12:00','25 May 20:00','29 May 04:00','30 May 12:00','31 May 20:00','4 Jun 04:00','5 Jun 12:00','6 Jun 20:00','8 Jun 04:00','11 Jun 12:00','12 Jun 20:00','14 Jun 04:00','15 Jun 12:00'][round(datum.value/32)]","tickSize":4,"labelAlign":"left","labelBaseline":"top","labelPadding":1,"labelFlush":false,"labelOverlap":false,"labelFontSize":10,"domain":false,"grid":false,"title":null}},
"y":{"field":"v","type":"quantitative","scale":{"domain":[0,31900],"nice":false,"zero":true},
"axis":{"orient":"right","values":[0,30769],"format":"d","tickSize":0,"labelPadding":4,"labelFlush":false,"labelBaseline":{"condition":{"test":"datum.value > 0","value":"top"},"value":"bottom"},"labelOffset":{"condition":{"test":"datum.value > 0","value":1},"value":-3},"labelFontSize":10,"domain":false,"grid":false,"title":null}},
"color":{"condition":{"test":"datum.v > datum.pv","value":"#228B22"},"value":"#FF0000"}}},
{"data":{"name":"seps"},"mark":{"type":"rule","color":"#000000","strokeDash":[3,3],"strokeWidth":1},
"encoding":{"x":{"field":"i","type":"quantitative","scale":{"domain":[-0.5,658],"nice":false,"zero":false}}}},
{"data":{"name":"vnotes"},"transform":[{"filter":"datum.k=='title'"}],"mark":{"type":"text","color":"#000000","fontSize":9.5,"align":"left","baseline":"middle"},
"encoding":{
"x":{"field":"i","type":"quantitative","scale":{"domain":[-0.5,658],"nice":false,"zero":false}},
"y":{"field":"v","type":"quantitative","scale":{"domain":[0,31900],"nice":false,"zero":true}},
"text":{"field":"t"}}},
{"data":{"name":"vnotes"},"transform":[{"filter":"datum.k=='mark'"}],"mark":{"type":"text","fill":"#FFFFFF","stroke":"#555555","strokeWidth":1.2,"fontSize":21,"fontWeight":"bold","fontStyle":"italic","align":"center","baseline":"middle"},
"encoding":{
"x":{"field":"i","type":"quantitative","scale":{"domain":[-0.5,658],"nice":false,"zero":false}},
"y":{"field":"v","type":"quantitative","scale":{"domain":[0,31900],"nice":false,"zero":true}},
"text":{"field":"t"}}}
]}
]
}
